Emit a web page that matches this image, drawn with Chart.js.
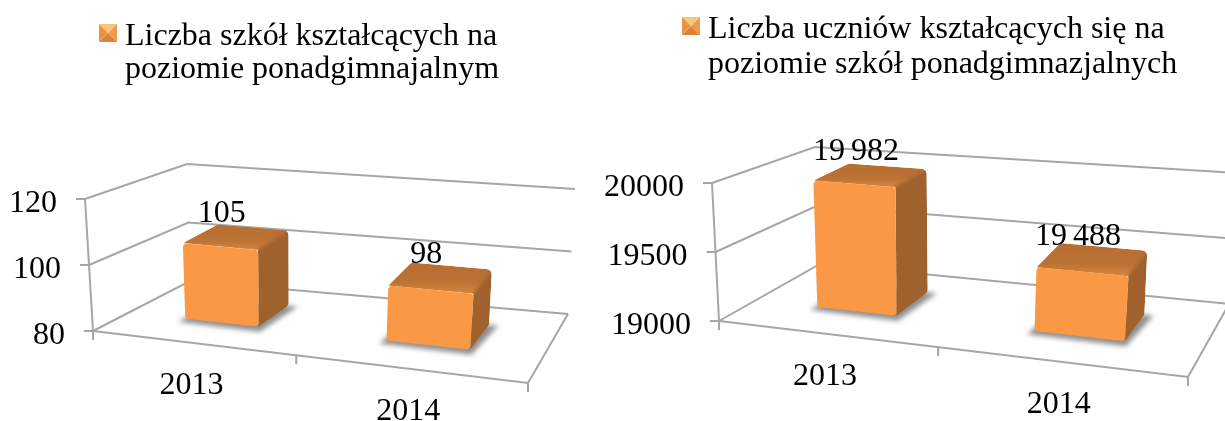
<!DOCTYPE html>
<html><head><meta charset="utf-8">
<style>html,body{margin:0;padding:0;background:#fff;overflow:hidden}
canvas{position:absolute;top:0}
#a{left:0}#b{left:580px}</style>
<script src="https://cdn.jsdelivr.net/npm/chart.js@4"></script>
</head><body>
<canvas id="a" width="580" height="421"></canvas>
<canvas id="b" width="645" height="421"></canvas>
<script>
const categories = ['2013', '2014'];
const schoolCounts = [105, 98];
const studentCounts = [19982, 19488];
const schoolScale = { min: 80, max: 120, step: 20 };
const studentScale = { min: 19000, max: 20000, step: 500 };
const schoolLegend = ['Liczba szkół kształcących na', 'poziomie ponadgimnajalnym'];
const studentLegend = ['Liczba uczniów kształcących się na', 'poziomie szkół ponadgimnazjalnych'];

const FONT = '"Liberation Serif","Times New Roman",serif';
const SIZE = 32;
const GRID = '#a6a6a6';
const FRONT = '#fa9846';

const lerp = (a, b, t) => [a[0] + (b[0] - a[0]) * t, a[1] + (b[1] - a[1]) * t];

function box3d(o) {
  const warp = u => u / (u + (1 - u) * o.persp);
  return (u, d, v) => {
    const w = warp(u);
    const fl = lerp(lerp(o.FL, o.FR, w), lerp(o.BL, o.BR, w), d);
    const tp = lerp(lerp(o.FLt, o.FRt, w), lerp(o.BLt, o.BRt, w), d);
    return lerp(fl, tp, v);
  };
}
function poly(ctx, pts) {
  ctx.beginPath();
  pts.forEach((p, i) => i ? ctx.lineTo(p[0], p[1]) : ctx.moveTo(p[0], p[1]));
  ctx.closePath();
}
function polyR(ctx, pts, r) {
  const n = pts.length;
  const s = lerp(pts[n - 1], pts[0], 0.5);
  ctx.beginPath();
  ctx.moveTo(s[0], s[1]);
  pts.forEach((p, i) => {
    const q = pts[(i + 1) % n];
    ctx.arcTo(p[0], p[1], q[0], q[1], r);
  });
  ctx.closePath();
}
function seg(ctx, pts, color, w) {
  ctx.beginPath();
  pts.forEach((p, i) => i ? ctx.lineTo(p[0], p[1]) : ctx.moveTo(p[0], p[1]));
  ctx.strokeStyle = color; ctx.lineWidth = w; ctx.stroke();
}

const plugin3d = {
  id: 'plugin3d',
  beforeDatasetsDraw(chart, args, o) {
    const ctx = chart.ctx, P = box3d(o), xs = chart.scales.x, ys = chart.scales.y;
    const area = chart.chartArea;
    const decY = val => (area.bottom - ys.getPixelForValue(val)) / (area.bottom - area.top);
    const decX = px => (px - area.left) / (area.right - area.left);
    ctx.save();
    ctx.lineCap = 'butt';

    ys.ticks.forEach(t => {
      const v = decY(t.value);
      seg(ctx, [P(0, 0, v), P(0, 1, v), P(1, 1, v)], GRID, 2);
      const a = P(0, 0, v);
      seg(ctx, [a, [a[0] - 9, a[1]]], GRID, 2);
      ctx.fillStyle = '#000'; ctx.font = SIZE + 'px ' + FONT;
      ctx.textAlign = 'right'; ctx.textBaseline = 'middle';
      ctx.fillText(String(t.value), a[0] - 28, a[1] + 5);
    });
    seg(ctx, [P(0, 0, 1), P(0, 0, 0)], GRID, 2);
    seg(ctx, [P(0, 0, 0), P(1, 0, 0), P(1, 1, 0)], GRID, 2);
    [0, 0.5, 1].forEach(u => {
      const a = P(u, 0, 0);
      seg(ctx, [a, [a[0], a[1] + 9]], GRID, 2);
    });

    ctx.fillStyle = '#000'; ctx.font = SIZE + 'px ' + FONT;
    ctx.textAlign = 'center'; ctx.textBaseline = 'middle';
    categories.forEach((c, i) => {
      const a = P(decX(xs.getPixelForValue(i)), 0, 0);
      ctx.fillText(c, a[0], a[1] + 43);
    });

    const meta = chart.getDatasetMeta(0);
    const d0 = o.depth[0], d1 = o.depth[1];
    const tops = [];
    meta.data.forEach((bar, i) => {
      const u0 = decX(bar.x - bar.width / 2), u1 = decX(bar.x + bar.width / 2);
      const v = decY(chart.data.datasets[0].data[i]);
      const sh = (p, dy) => [p[0] + o.barShift, p[1] + (dy || 0)];
      const fb0 = sh(P(u0, d0, 0)), fb1 = sh(P(u1, d0, 0)), bb0 = sh(P(u0, d1, 0)), bb1 = sh(P(u1, d1, 0));
      const ft0 = sh(P(u0, d0, v), o.topDrop), ft1 = sh(P(u1, d0, v), o.topDrop),
            bt0 = sh(P(u0, d1, v), o.topDrop - 2), bt1 = sh(P(u1, d1, v), o.topDrop - 2);

      ctx.save();
      ctx.filter = 'blur(2.5px)';
      poly(ctx, [[fb0[0] - 7, fb0[1] + 3], [fb1[0] + 1, fb1[1] + 5], [bb1[0] + 9, bb1[1] + 1], [bb0[0], bb0[1]]]);
      ctx.fillStyle = 'rgba(105,105,105,.75)'; ctx.fill();
      ctx.restore();

      ctx.save();
      polyR(ctx, [ft0, bt0, bt1, bb1, fb1, fb0], 6);
      ctx.clip();
      const tg = ctx.createLinearGradient(0, bt0[1], 0, ft1[1]);
      tg.addColorStop(0, '#b76e31'); tg.addColorStop(0.62, '#bb7233'); tg.addColorStop(1, '#d9853d');
      poly(ctx, [ft0, ft1, bt1, bt0]);
      ctx.fillStyle = tg; ctx.fill();
      poly(ctx, [ft1, fb1, bb1, bt1]);
      ctx.fillStyle = '#9f622c'; ctx.fill();
      ctx.filter = 'blur(1.2px)';
      seg(ctx, [ft1, bt1], '#ad6930', 3);
      ctx.restore();

      polyR(ctx, [ft0, ft1, fb1, fb0], 4);
      ctx.fillStyle = FRONT; ctx.fill();

      tops.push({ x: (ft0[0] + ft1[0] + bt0[0] + bt1[0]) / 4, y: (ft0[1] + ft1[1] + bt0[1] + bt1[1]) / 4 });
    });

    ctx.fillStyle = '#000'; ctx.font = SIZE + 'px ' + FONT;
    ctx.textAlign = 'center'; ctx.textBaseline = 'middle';
    ctx.wordSpacing = '-2px';
    chart.data.datasets[0].data.forEach((val, i) => {
      const s = val >= 1000 ? String(val).replace(/(\d{3})$/, ' $1') : String(val);
      ctx.fillText(s, tops[i].x - 15, tops[i].y - 23);
    });
    ctx.wordSpacing = '0px';

    const L = o.legend;
    const m = L.marker, c = [m[0] + m[2] / 2, m[1] + m[2] / 2];
    const tl = [m[0], m[1]], tr = [m[0] + m[2], m[1]], br = [m[0] + m[2], m[1] + m[2]], bl = [m[0], m[1] + m[2]];
    const tri = (a, b, f) => { poly(ctx, [a, b, c]); ctx.fillStyle = f; ctx.fill(); };
    tri(tl, tr, '#fbc67c'); tri(tr, br, '#ee9a4a'); tri(bl, br, '#d98336'); tri(tl, bl, '#e89444');
    ctx.textAlign = 'left'; ctx.textBaseline = 'alphabetic';
    ctx.font = L.size + 'px ' + FONT; ctx.fillStyle = '#000';
    L.lines.forEach((t, i) => ctx.fillText(t, L.x, L.base + i * L.lh));

    ctx.restore();
    return false;
  }
};

function build(id, values, scale, geom) {
  return new Chart(document.getElementById(id), {
    type: 'bar',
    data: { labels: categories, datasets: [{ data: values, backgroundColor: FRONT, categoryPercentage: 0.38, barPercentage: 1 }] },
    options: {
      responsive: false, animation: false, events: [],
      layout: { padding: geom.pad },
      plugins: { legend: { display: false }, tooltip: { enabled: false }, plugin3d: geom },
      scales: {
        x: { display: false },
        y: { display: false, min: scale.min, max: scale.max, ticks: { stepSize: scale.step } }
      }
    },
    plugins: [plugin3d]
  });
}

build('a', schoolCounts, schoolScale, {
  pad: { left: 93, right: 12, top: 199, bottom: 90 },
  FL: [93, 331], FR: [528, 383], BL: [190, 281], BR: [568, 314],
  FLt: [85, 199], FRt: [540, 243], BLt: [187, 164], BRt: [575, 189],
  persp: 1.14, depth: [0.37, 0.75], barShift: -1, topDrop: 4,
  legend: { marker: [99, 24, 18], x: 125, base: 45, lh: 33, size: 32, lines: schoolLegend }
});
build('b', studentCounts, studentScale, {
  pad: { left: 139, right: 0, top: 183, bottom: 100 },
  FL: [139, 321], FR: [608, 377], BL: [240, 264], BR: [649, 304],
  FLt: [132, 183], FRt: [620, 229], BLt: [235, 147], BRt: [656, 173],
  persp: 1.14, depth: [0.37, 0.75], barShift: -1, topDrop: 3,
  legend: { marker: [102, 17, 18], x: 128, base: 38, lh: 35, size: 32, lines: studentLegend }
});
</script>
</body></html>
